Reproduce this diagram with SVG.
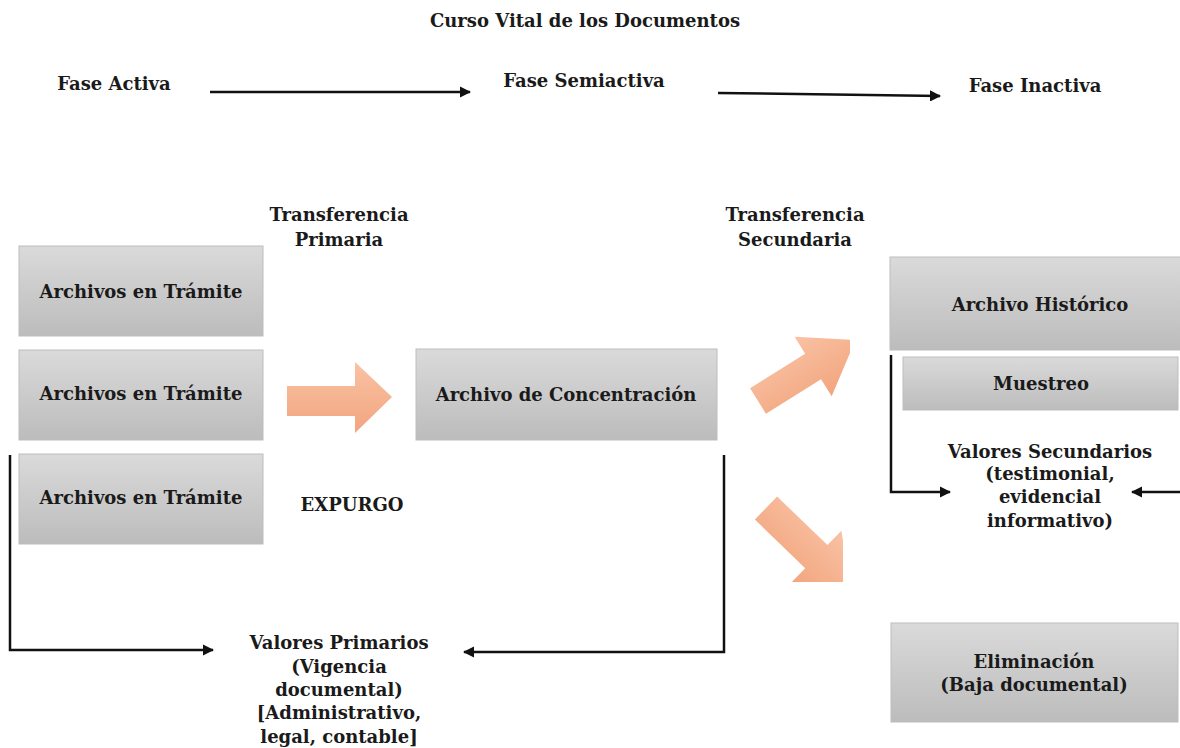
<svg xmlns="http://www.w3.org/2000/svg" width="1180" height="748" viewBox="0 0 1180 748">
<style>
  text { font-family: "DejaVu Serif", "Liberation Serif", serif; font-weight: bold; fill: #1a1a1a; text-anchor: middle; }
  .t { font-size: 18px; }
  .h { font-size: 18px; }
  .box { fill: url(#g); stroke: #bdbdbd; stroke-width: 1; }
  .ln { fill: none; stroke: #111; stroke-width: 2.5; }
  .or { fill: url(#og); }
</style>
<defs>
  <linearGradient id="g" x1="0" y1="0" x2="0" y2="1">
    <stop offset="0" stop-color="#dadada"/>
    <stop offset="1" stop-color="#bcbcbc"/>
  </linearGradient>
  <linearGradient id="og" x1="0" y1="0" x2="0" y2="1">
    <stop offset="0" stop-color="#f9c2a4"/>
    <stop offset="1" stop-color="#f2a57e"/>
  </linearGradient>
  <marker id="ah" viewBox="0 0 10 10" refX="9" refY="5" markerWidth="4.5" markerHeight="4.5" orient="auto" markerUnits="strokeWidth">
    <path d="M0,0 L10,5 L0,10 z" fill="#111"/>
  </marker>
  <clipPath id="clipA"><rect x="700" y="300" width="150" height="300"/></clipPath>
  <clipPath id="clipB"><rect x="700" y="300" width="143" height="282"/></clipPath>
</defs>

<text x="585" y="27" class="h">Curso Vital de los Documentos</text>
<text x="114" y="90" class="h">Fase Activa</text>
<text x="584" y="87" class="h">Fase Semiactiva</text>
<text x="1035" y="92" class="h">Fase Inactiva</text>

<g id="connectors">
  <line class="ln" x1="210" y1="92" x2="470" y2="92" marker-end="url(#ah)"/>
  <line class="ln" x1="718" y1="93" x2="940" y2="96" marker-end="url(#ah)"/>
  <polyline class="ln" points="10,455 10,650 213,650" marker-end="url(#ah)"/>
  <polyline class="ln" points="724,455 724,652 464,652" marker-end="url(#ah)"/>
  <polyline class="ln" points="891,355 891,492 950,492" marker-end="url(#ah)"/>
  <line class="ln" x1="1180" y1="492" x2="1132" y2="492" marker-end="url(#ah)"/>
</g>

<g id="arrow-primaria">
  <polygon class="or" points="287,386 355,386 355,362 392,397 355,433 355,416 287,416"/>
</g>
<g id="arrow-historico" clip-path="url(#clipA)">
  <g transform="translate(758,401) rotate(-32)">
    <polygon class="or" points="0,-15 65,-15 65,-35 115,0 65,35 65,15 0,15"/>
  </g>
</g>
<g id="arrow-eliminacion" clip-path="url(#clipB)">
  <g transform="translate(766,508) rotate(44)">
    <polygon class="or" points="0,-16 70,-16 70,-36 118,0 70,36 70,16 0,16"/>
  </g>
</g>

<g id="lbl-transf-primaria">
  <text x="339" y="221" class="t">Transferencia</text>
  <text x="339" y="246" class="t">Primaria</text>
</g>
<g id="lbl-transf-secundaria">
  <text x="795" y="221" class="t">Transferencia</text>
  <text x="795" y="246" class="t">Secundaria</text>
</g>

<g id="tramite1">
  <rect class="box" x="19" y="246" width="244" height="90"/>
  <text x="141" y="298" class="t">Archivos en Trámite</text>
</g>
<g id="tramite2">
  <rect class="box" x="19" y="350" width="244" height="90"/>
  <text x="141" y="400" class="t">Archivos en Trámite</text>
</g>
<g id="tramite3">
  <rect class="box" x="19" y="454" width="244" height="90"/>
  <text x="141" y="504" class="t">Archivos en Trámite</text>
</g>
<g id="expurgo">
  <text x="352" y="511" class="t">EXPURGO</text>
</g>
<g id="concentracion">
  <rect class="box" x="416" y="349" width="301" height="91"/>
  <text x="566" y="401" class="t">Archivo de Concentración</text>
</g>
<g id="historico">
  <rect class="box" x="890" y="257" width="295" height="93"/>
  <text x="1040" y="311" class="t">Archivo Histórico</text>
</g>
<g id="muestreo">
  <rect class="box" x="903" y="357" width="275" height="53"/>
  <text x="1041" y="390" class="t">Muestreo</text>
</g>
<g id="valores-secundarios">
  <text x="1050" y="458" class="t">Valores Secundarios</text>
  <text x="1050" y="480" class="t">(testimonial,</text>
  <text x="1050" y="503" class="t">evidencial</text>
  <text x="1050" y="527" class="t">informativo)</text>
</g>
<g id="eliminacion">
  <rect class="box" x="891" y="623" width="287" height="99"/>
  <text x="1034" y="668" class="t">Eliminación</text>
  <text x="1034" y="691" class="t">(Baja documental)</text>
</g>
<g id="valores-primarios">
  <text x="339" y="649" class="t">Valores Primarios</text>
  <text x="339" y="673" class="t">(Vigencia</text>
  <text x="339" y="696" class="t">documental)</text>
  <text x="339" y="719" class="t">[Administrativo,</text>
  <text x="339" y="743" class="t">legal, contable]</text>
</g>
</svg>
